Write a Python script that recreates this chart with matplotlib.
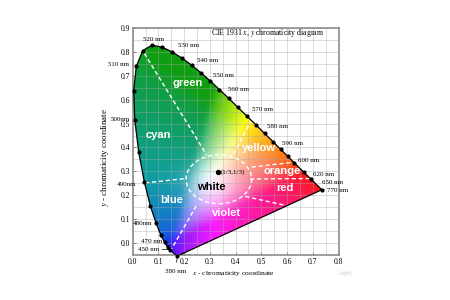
import numpy as np
import matplotlib
matplotlib.use("Agg")
import matplotlib.pyplot as plt
from matplotlib.patches import Polygon, Ellipse

plt.rcParams['mathtext.fontset'] = 'stix'

# spectral locus as drawn in the picture (x, y) per wavelength (nm)
wl = [380, 400, 420, 430, 440, 450, 460, 465, 470, 475, 480, 485, 490, 495, 500,
      505, 510, 515, 520, 525, 530, 535, 540, 545, 550, 555, 560, 565, 570, 575,
      580, 585, 590, 595, 600, 610, 620, 630, 640, 650, 660, 680, 700, 770]
loc_x = [0.1741, 0.1733, 0.1714, 0.1689, 0.1644, 0.1566, 0.1440, 0.1355, 0.1241, 0.1096,
         0.0913, 0.0687, 0.0454, 0.0235, 0.0082, 0.0039, 0.0139, 0.0389, 0.0743, 0.1142,
         0.1547, 0.1929, 0.2296, 0.2658, 0.3016, 0.3373, 0.3731, 0.4087, 0.4441, 0.4788,
         0.5125, 0.5448, 0.5752, 0.6029, 0.6270, 0.6658, 0.6915, 0.7079, 0.7190, 0.7260,
         0.7300, 0.7334, 0.7347, 0.7347]
loc_y = [-0.054, -0.054, -0.054, -0.052, -0.047, -0.040, -0.027, -0.017, 0.003, 0.033,
         0.082, 0.155, 0.255, 0.380, 0.514, 0.638, 0.739, 0.805, 0.828, 0.820,
         0.799, 0.773, 0.744, 0.712, 0.678, 0.642, 0.606, 0.568, 0.531, 0.495,
         0.459, 0.425, 0.392, 0.363, 0.337, 0.296, 0.269, 0.252, 0.240, 0.233,
         0.228, 0.225, 0.223, 0.223]
dot_wl = [380, 460, 465, 470, 475, 480, 485, 490, 495, 500, 505, 510, 515, 520, 525, 530,
          535, 540, 545, 550, 555, 560, 565, 570, 575, 580, 585, 590, 595, 600, 610, 620, 770]

# wavelength labels: text, x, y
wl_labels = [("520 nm", 0.082, 0.852), ("530 nm", 0.215, 0.826), ("540 nm", 0.292, 0.765),
             ("550 nm", 0.352, 0.702), ("560 nm", 0.412, 0.642), ("570 nm", 0.503, 0.558),
             ("580 nm", 0.562, 0.488), ("590 nm", 0.620, 0.418), ("600 nm", 0.682, 0.345),
             ("620 nm", 0.740, 0.287), ("650 nm", 0.778, 0.252), ("770 nm", 0.795, 0.222),
             ("510 nm", -0.055, 0.748), ("500nm", -0.047, 0.517), ("490nm", -0.022, 0.245),
             ("480nm", 0.040, 0.082), ("470 nm", 0.074, 0.006)]

# colour region names: text, x, y, colour
regions = [("green", 0.212, 0.668, "white"), ("cyan", 0.100, 0.452, "white"),
           ("yellow", 0.490, 0.397, "white"), ("orange", 0.580, 0.300, "white"),
           ("red", 0.590, 0.229, "white"), ("white", 0.307, 0.236, "black"),
           ("blue", 0.150, 0.180, "white"), ("violet", 0.363, 0.124, "white")]

# dashed region boundaries
bounds = [[(0.045, 0.794), (0.288, 0.368)],
          [(0.392, 0.372), (0.462, 0.515)],
          [(0.463, 0.318), (0.625, 0.338)],
          [(0.456, 0.268), (0.688, 0.270)],
          [(0.048, 0.252), (0.207, 0.270)],
          [(0.145, -0.036), (0.249, 0.159)],
          [(0.438, 0.195), (0.600, 0.156)]]
white_center = (0.335, 0.267)
white_size = (0.255, 0.205)
eq_point = (0.333, 0.296)

fig = plt.figure(figsize=(4.5, 3.0), dpi=100)
ax = fig.add_axes([132.7/450, 1-255/300, (338.5-132.7)/450, (255-28)/300])
ax.set_xlim(0, 0.8)
ax.set_ylim(-0.05, 0.9)

# colour field (rendering of the chromaticity plane)
gx = np.linspace(0.0, 0.8, 420)
gy = np.linspace(-0.06, 0.9, 500)
XX, YY = np.meshgrid(gx, gy)
yr = np.clip((YY + 0.059) / 1.064, 1e-3, None)
X = XX / yr
Z = (1 - XX - yr) / yr
M = np.array([[3.2406, -1.5372, -0.4986], [-0.9689, 1.8758, 0.0415], [0.0557, -0.2040, 1.0570]])
rgb = np.stack([M[i, 0]*X + M[i, 1]*1.0 + M[i, 2]*Z for i in range(3)], axis=-1)
rgb = np.clip(rgb, 0, None)
rgb = rgb / np.maximum(rgb.max(axis=-1, keepdims=True), 1e-6)
rgb = np.where(rgb <= 0.0031308, 12.92*rgb, 1.055*np.power(rgb, 1/2.4) - 0.055)
rgb = np.clip(rgb, 0, 1)
rgb = 0.1 + 0.9*rgb
dom = np.clip(rgb[..., 1] - rgb[..., 0], 0, 1)
rgb = rgb * (1 - 0.42*dom)[..., None]
w = 0.55*np.exp(-((XX-0.31)**2/0.010 + (YY-0.245)**2/0.007))
rgb = rgb*(1-w[..., None]) + w[..., None]
# soften transitions
k = np.exp(-0.5*(np.arange(-20, 21)/7.0)**2)
k /= k.sum()
for axis_ in (0, 1):
    pad = [(0, 0)]*3
    pad[axis_] = (20, 20)
    rp = np.pad(rgb, pad, mode='edge')
    rgb = np.apply_along_axis(lambda v: np.convolve(v, k, mode='valid'), axis_, rp)
rgb = np.clip(rgb, 0, 1)
im = ax.imshow(rgb, extent=(0, 0.8, -0.06, 0.9), origin='lower', aspect='auto',
               interpolation='bilinear', zorder=1)
poly = Polygon(np.column_stack([loc_x, loc_y]), closed=True, transform=ax.transData,
               facecolor='none', edgecolor='black', linewidth=0.9, zorder=4)
ax.add_patch(poly)
im.set_clip_path(poly)

# grid
for v in np.arange(0, 0.81, 0.05):
    ax.axvline(v, color='#a8a8a8', lw=0.5, alpha=0.55, zorder=2)
for v in np.arange(-0.05, 0.91, 0.05):
    ax.axhline(v, color='#a8a8a8', lw=0.5, alpha=0.55, zorder=2)

# dots
idx = [wl.index(w_) for w_ in dot_wl]
ax.scatter([loc_x[i] for i in idx], [loc_y[i] for i in idx], s=4, color='black', zorder=5, clip_on=False)

# dashed boundaries
for seg in bounds:
    ax.plot([seg[0][0], seg[1][0]], [seg[0][1], seg[1][1]], ls=(0, (3, 2)), color='white', lw=1.0, zorder=3)
ax.add_patch(Ellipse(white_center, white_size[0], white_size[1], fill=False, ls=(0, (3, 2)),
                     edgecolor='white', lw=1.0, zorder=3))
ax.scatter([eq_point[0]], [eq_point[1]], s=8, color='black', zorder=5)
ax.text(eq_point[0]+0.008, eq_point[1], "(1/3,1/3)", fontsize=5, family='Liberation Serif',
        va='center', ha='left', zorder=6)

for t, x, y, c in regions:
    ax.text(x, y, t, fontsize=8, family='Liberation Sans', weight='bold', color=c,
            ha='center', va='center', zorder=6)

for t, x, y in wl_labels:
    ax.text(x, y, t, fontsize=5, family='Liberation Serif', ha='center', va='center',
            zorder=6, clip_on=False)
ax.annotate("450 nm", xy=(loc_x[wl.index(460)], loc_y[wl.index(460)]), xytext=(0.062, -0.025),
            fontsize=5, family='Liberation Serif', ha='center', va='center', annotation_clip=False,
            arrowprops=dict(arrowstyle='-', lw=0.5, color='black', shrinkA=6, shrinkB=0), zorder=6)
ax.annotate("380 nm", xy=(loc_x[0], loc_y[0]), xytext=(0.165, -0.12),
            fontsize=5, family='Liberation Serif', ha='center', va='center', annotation_clip=False,
            arrowprops=dict(arrowstyle='-', lw=0.5, color='black', shrinkA=3, shrinkB=0), zorder=6)

ax.text(0.523, 0.878, "CIE 1931 $x$, $y$ chromaticity diagram", fontsize=5.6,
        family='Liberation Serif', ha='center', va='center', zorder=6)

ax.set_xticks(np.arange(0, 0.81, 0.1))
ax.set_yticks(np.arange(0, 0.91, 0.1))
ax.set_xticklabels([f"{v:.1f}" for v in np.arange(0, 0.81, 0.1)])
ax.set_yticklabels([f"{v:.1f}" for v in np.arange(0, 0.91, 0.1)])
ax.tick_params(direction='in', length=2.5, width=0.6, color='#555555', labelsize=5.5, pad=2)
for lab in ax.get_xticklabels() + ax.get_yticklabels():
    lab.set_family('Liberation Serif')
for sp in ax.spines.values():
    sp.set_color('#8c8c8c')
    sp.set_linewidth(1.2)

fig.text(233/450, 1-273/300, "$x$ - chromaticity coordinate", fontsize=5.4,
         family='Liberation Serif', ha='center', va='center')
fig.text(105/450, 1-157/300, "$y$ - chromaticity coordinate", fontsize=6.5,
         family='Liberation Serif', ha='center', va='center', rotation=90)
fig.text(346/450, 1-273/300, "Light", fontsize=3.5, color='#c8c8c8', ha='center', va='center')

fig.savefig("out.png", dpi=100)
